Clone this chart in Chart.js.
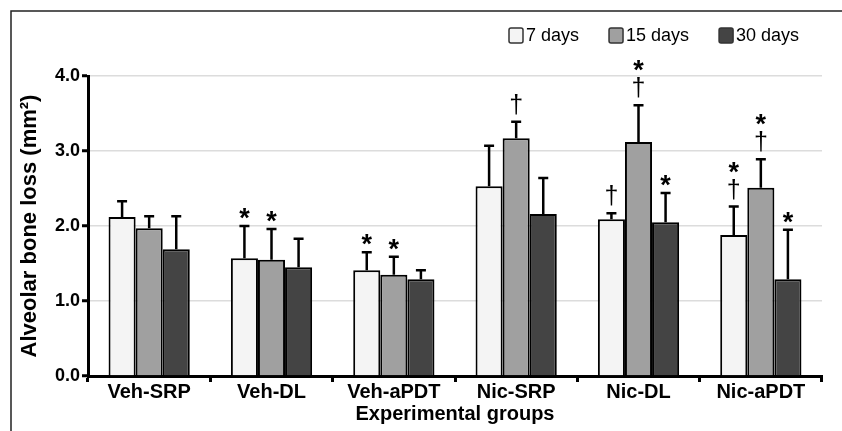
<!DOCTYPE html>
<html lang="en">
<head>
  <meta charset="UTF-8">
  <title>Alveolar bone loss</title>
  <script src="https://cdn.jsdelivr.net/npm/chart.js"></script>
  <style>
    html, body { margin: 0; padding: 0; background: #fff; }
    #wrap { width: 842px; height: 431px; position: relative; }
  </style>
</head>
<body>
  <div id="wrap"><canvas id="boneChart" width="842" height="431"></canvas></div>

  <script>
    // data
    const groups = ['Veh-SRP', 'Veh-DL', 'Veh-aPDT', 'Nic-SRP', 'Nic-DL', 'Nic-aPDT'];
    const periods = ['7 days', '15 days', '30 days'];
    const mean7 = [2.12, 1.57, 1.41, 2.53, 2.09, 1.88];
    const sd7 = [0.21, 0.43, 0.24, 0.54, 0.08, 0.38];
    const mean15 = [1.97, 1.55, 1.35, 3.17, 3.12, 2.51];
    const sd15 = [0.16, 0.41, 0.24, 0.22, 0.49, 0.38];
    const mean30 = [1.69, 1.45, 1.29, 2.16, 2.05, 1.29];
    const sd30 = [0.44, 0.38, 0.12, 0.48, 0.39, 0.66];
    // significance marks: * and/or dagger
    const sig7 = ['', '*', '*', '', '†', '*†'];
    const sig15 = ['', '*', '*', '†', '*†', '*†'];
    const sig30 = ['', '', '', '', '*', '*'];
    const yTicks = [0, 1, 2, 3, 4];

    const fills = ['#f4f4f4', '#a0a0a0', '#444444'];
    const sds = [sd7, sd15, sd30];
    const sigs = [sig7, sig15, sig30];

    const FONT = "'Liberation Sans', Arial, sans-serif";

    // frame, error bars, significance marks, legend
    const extras = {
      id: 'extras',
      beforeDraw(chart) {
        const ctx = chart.ctx;
        ctx.save();
        ctx.strokeStyle = '#222';
        ctx.lineWidth = 1.5;
        ctx.beginPath();
        ctx.moveTo(11, 431);
        ctx.lineTo(11, 11);
        ctx.lineTo(842, 11);
        ctx.stroke();
        ctx.restore();
      },
      afterDatasetsDraw(chart) {
        const ctx = chart.ctx;
        const y = chart.scales.y;
        ctx.save();
        chart.data.datasets.forEach((ds, i) => {
          const meta = chart.getDatasetMeta(i);
          meta.data.forEach((bar, j) => {
            const top = y.getPixelForValue(ds.data[j] + sds[i][j]);
            ctx.strokeStyle = '#000';
            ctx.lineWidth = 2.5;
            ctx.beginPath();
            ctx.moveTo(bar.x, bar.y);
            ctx.lineTo(bar.x, top);
            ctx.moveTo(bar.x - 5, top);
            ctx.lineTo(bar.x + 5, top);
            ctx.stroke();

            // marks stacked upward from the cap
            let bottom = top - 7;
            const marks = sigs[i][j].split('').reverse();
            ctx.fillStyle = '#000';
            ctx.textAlign = 'center';
            ctx.textBaseline = 'alphabetic';
            marks.forEach(m => {
              ctx.font = m === '*' ? 'bold 27px ' + FONT : '25px ' + FONT;
              const mt = ctx.measureText(m);
              ctx.fillText(m, bar.x, bottom - mt.actualBoundingBoxDescent);
              bottom = bottom - mt.actualBoundingBoxDescent - mt.actualBoundingBoxAscent - 6;
            });
          });
        });

        // legend
        ctx.font = '18px ' + FONT;
        ctx.textAlign = 'left';
        ctx.textBaseline = 'alphabetic';
        let lx = 509;
        chart.data.datasets.forEach((ds, i) => {
          ctx.fillStyle = ds.backgroundColor;
          ctx.strokeStyle = '#333';
          ctx.lineWidth = 1.5;
          ctx.beginPath();
          ctx.roundRect(lx, 28, 14, 15, 2);
          ctx.fill();
          ctx.stroke();
          ctx.fillStyle = '#000';
          ctx.fillText(ds.label, lx + 17, 41);
          lx += 17 + ctx.measureText(ds.label).width + 30;
        });
        ctx.restore();
      }
    };

    new Chart(document.getElementById('boneChart'), {
      type: 'bar',
      data: {
        labels: groups,
        datasets: [
          { label: periods[0], data: mean7, backgroundColor: fills[0] },
          { label: periods[1], data: mean15, backgroundColor: fills[1] },
          { label: periods[2], data: mean30, backgroundColor: fills[2] }
        ]
      },
      options: {
        responsive: false,
        animation: false,
        layout: { padding: { top: 76, right: 20, left: 0, bottom: 0 } },
        datasets: {
          bar: {
            borderColor: '#000',
            borderWidth: 2,
            categoryPercentage: 0.664,
            barPercentage: 1
          }
        },
        plugins: {
          legend: { display: false },
          tooltip: { enabled: false }
        },
        scales: {
          x: {
            afterFit(s) { s.height = 55; },
            grid: {
              drawOnChartArea: false,
              tickLength: 6,
              tickColor: '#000',
              tickWidth: 3
            },
            border: { color: '#000', width: 3 },
            ticks: {
              color: '#000',
              padding: -2,
              font: { family: FONT, size: 20, weight: 'bold' }
            },
            title: {
              display: true,
              text: 'Experimental groups',
              color: '#000',
              padding: { top: 0, bottom: 5 },
              font: { family: FONT, size: 20, weight: 'bold' }
            }
          },
          y: {
            min: 0,
            max: 4,
            afterFit(s) { s.width = 88; },
            afterBuildTicks(s) { s.ticks = yTicks.map(v => ({ value: v })); },
            grid: {
              color: '#dcdcdc',
              lineWidth: 1.5,
              tickLength: 6,
              tickColor: '#000',
              tickWidth: 3
            },
            border: { color: '#000', width: 3 },
            ticks: {
              color: '#000',
              padding: 2,
              callback: v => v.toFixed(1),
              font: { family: FONT, size: 18, weight: 'bold' }
            },
            title: {
              display: true,
              text: 'Alveolar bone loss (mm²)',
              color: '#000',
              padding: { top: 17, bottom: 0 },
              font: { family: FONT, size: 22, weight: 'bold' }
            }
          }
        }
      },
      plugins: [extras]
    });
  </script>
</body>
</html>
